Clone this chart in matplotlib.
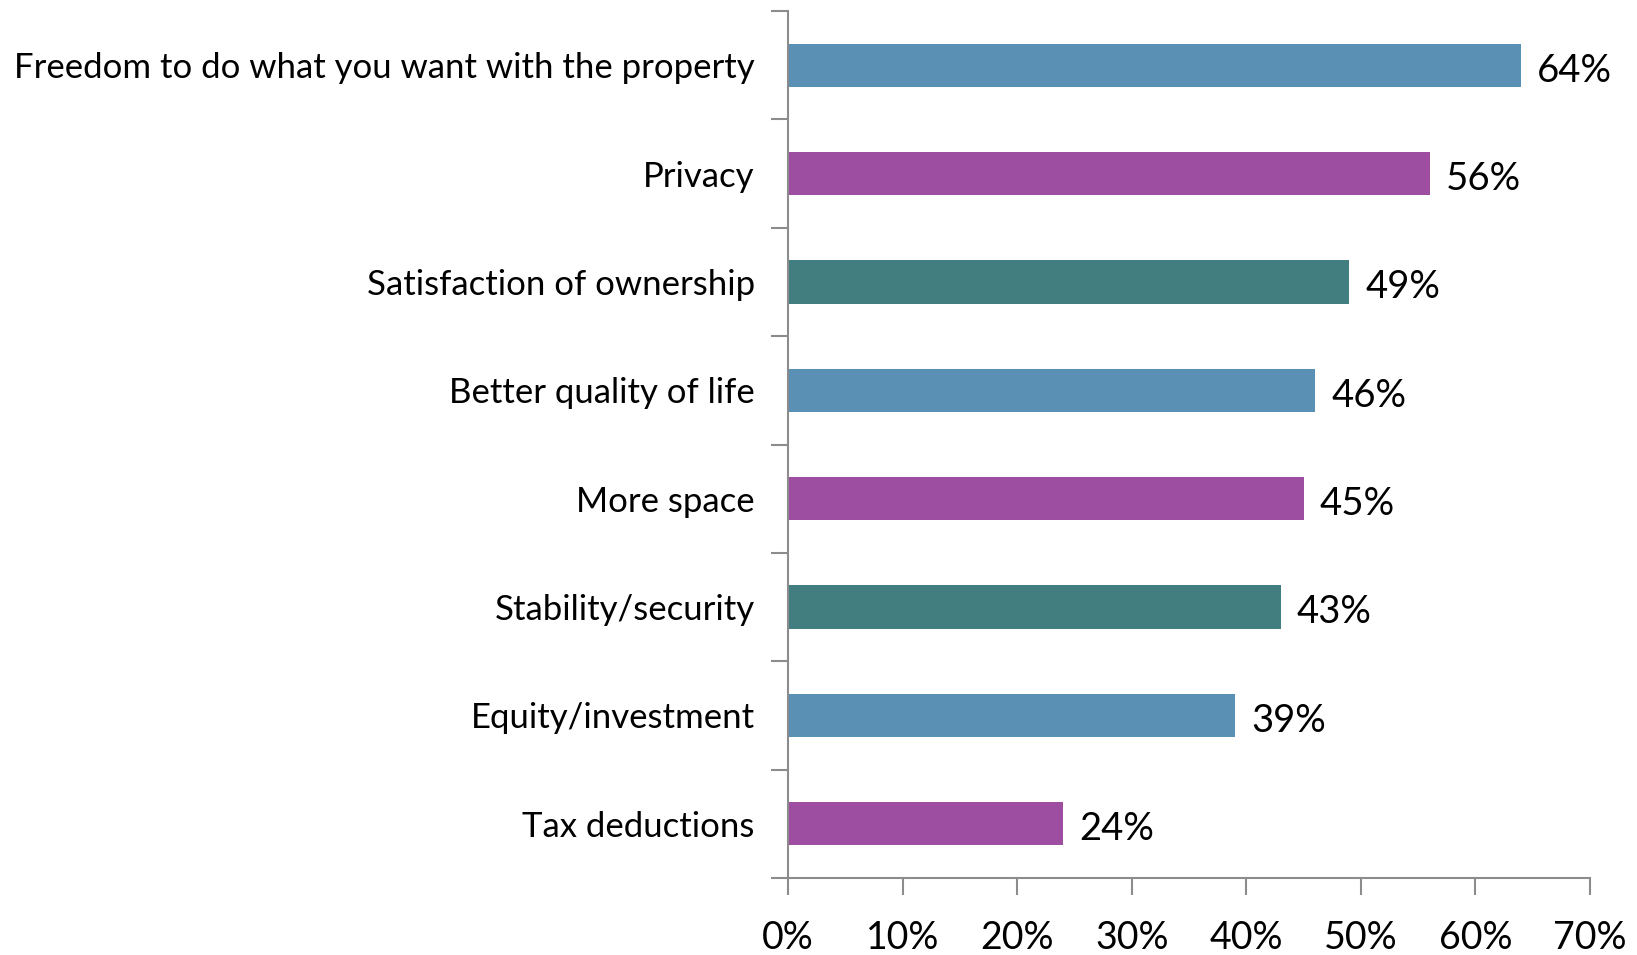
import matplotlib
matplotlib.use("Agg")
import matplotlib.pyplot as plt
from matplotlib.ticker import FixedLocator, PercentFormatter

categories = ["Freedom to do what you want with the property", "Privacy",
              "Satisfaction of ownership", "Better quality of life", "More space",
              "Stability/security", "Equity/investment", "Tax deductions"]
values = [64, 56, 49, 46, 45, 43, 39, 24]
colors = ["#5B90B5", "#9E4EA0", "#427E80", "#5B90B5", "#9E4EA0", "#427E80", "#5B90B5", "#9E4EA0"]
xticks = [0, 10, 20, 30, 40, 50, 60, 70]

plt.rcParams['font.family'] = ['Lato', 'DejaVu Sans']

fig = plt.figure(figsize=(16.37, 9.55), dpi=100)
ax = fig.add_axes([788/1637, 1-878/955, (1590-788)/1637, (878-11)/955])

ypos = list(range(len(categories)))
ax.barh(ypos, values, height=0.4, color=colors)
ax.set_ylim(len(categories)-0.5, -0.5)
ax.set_xlim(0, 70)

for y, v in zip(ypos, values):
    ax.text(v + 1.4, y + 0.05, f"{v}%", va="center", ha="left", fontsize=27.5, color="black")

ax.set_yticks(ypos)
ax.set_yticklabels(categories, fontsize=25)
ax.yaxis.set_minor_locator(FixedLocator([i - 0.5 for i in range(len(categories)+1)]))
ax.tick_params(axis='y', which='major', length=0, pad=24)
ax.tick_params(axis='y', which='minor', length=12, color="#8C8C8C", width=1.5)

ax.set_xticks(xticks)
ax.xaxis.set_major_formatter(PercentFormatter(decimals=0))
ax.tick_params(axis='x', which='major', length=12, color="#8C8C8C", width=1.5, labelsize=27, pad=18)

for s in ["top", "right"]:
    ax.spines[s].set_visible(False)
for s in ["left", "bottom"]:
    ax.spines[s].set_color("#8C8C8C")
    ax.spines[s].set_linewidth(1.5)

fig.savefig("out.png", dpi=100)
